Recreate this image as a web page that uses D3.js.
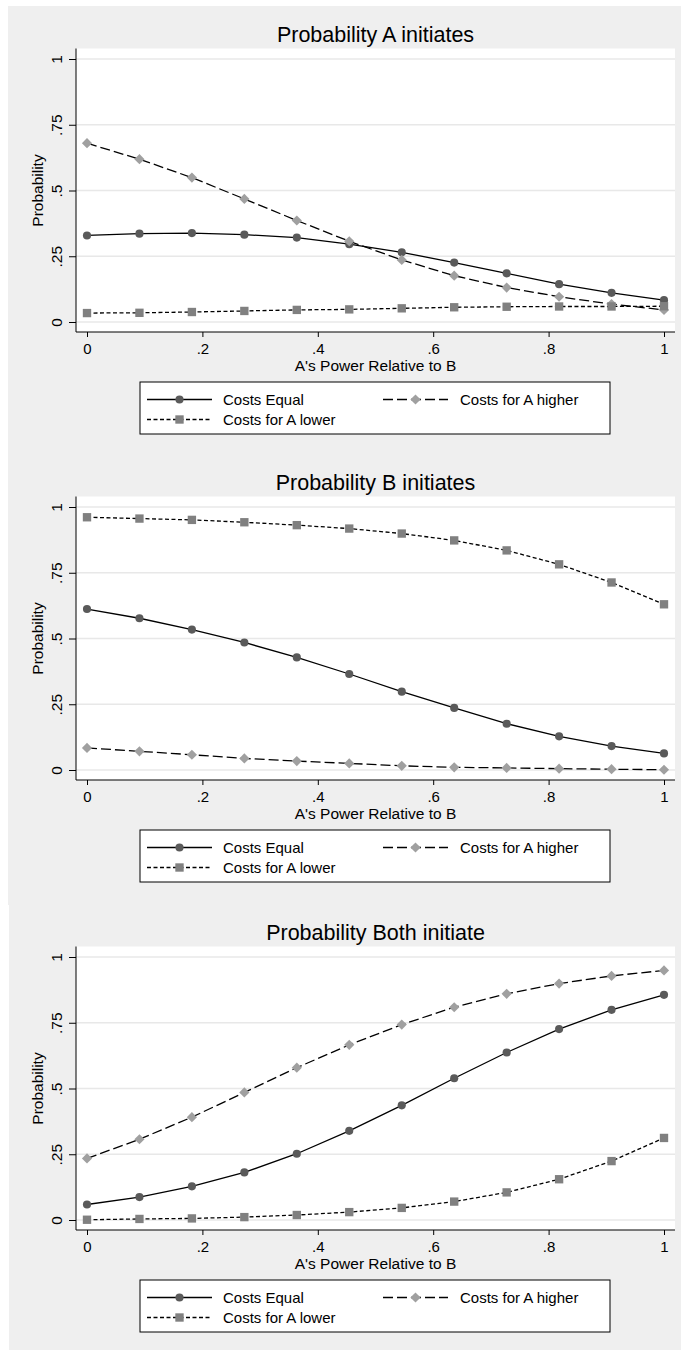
<!DOCTYPE html>
<html>
<head>
<meta charset="utf-8">
<script src="https://cdn.jsdelivr.net/npm/d3@7"></script>
<style>
  body { margin: 0; background: #fff; }
  svg { display: block; font-family: "Liberation Sans", Arial, sans-serif; }
</style>
</head>
<body>
<svg id="chart" width="681" height="1350"></svg>
<script>
// values
const xValues = [0, 0.0909, 0.1818, 0.2727, 0.3636, 0.4545, 0.5455, 0.6364, 0.7273, 0.8182, 0.9091, 1];

const panelTitles = ["Probability A initiates", "Probability B initiates", "Probability Both initiate"];
const seriesNames = ["Costs Equal", "Costs for A higher", "Costs for A lower"];

const aEqual  = [0.329, 0.336, 0.338, 0.332, 0.321, 0.296, 0.265, 0.226, 0.185, 0.144, 0.111, 0.083];
const aHigher = [0.680, 0.619, 0.549, 0.468, 0.386, 0.307, 0.236, 0.176, 0.131, 0.096, 0.068, 0.046];
const aLower  = [0.034, 0.035, 0.038, 0.042, 0.046, 0.048, 0.052, 0.056, 0.058, 0.059, 0.059, 0.060];

const bEqual  = [0.612, 0.577, 0.534, 0.485, 0.428, 0.365, 0.298, 0.236, 0.176, 0.128, 0.091, 0.063];
const bHigher = [0.084, 0.071, 0.058, 0.044, 0.034, 0.025, 0.016, 0.010, 0.008, 0.005, 0.003, 0.001];
const bLower  = [0.961, 0.956, 0.951, 0.942, 0.931, 0.918, 0.899, 0.873, 0.835, 0.782, 0.713, 0.630];

const bothEqual  = [0.059, 0.087, 0.128, 0.181, 0.252, 0.339, 0.436, 0.539, 0.637, 0.726, 0.799, 0.856];
const bothHigher = [0.234, 0.307, 0.391, 0.485, 0.579, 0.666, 0.743, 0.809, 0.860, 0.899, 0.928, 0.949];
const bothLower  = [0.001, 0.004, 0.006, 0.011, 0.019, 0.030, 0.046, 0.070, 0.105, 0.155, 0.224, 0.312];

const yTicks = [0, 0.25, 0.5, 0.75, 1];
const yTickLabels = ["0", ".25", ".5", ".75", "1"];
const xTicks = [0, 0.2, 0.4, 0.6, 0.8, 1];
const xTickLabels = ["0", ".2", ".4", ".6", ".8", "1"];

// layout of the three stacked graphs
const layout = [
  { bgX: 8, bgTop: 6,   bgBottom: 447,  y1: 59 },
  { bgX: 8, bgTop: 447, bgBottom: 905,  y1: 507 },
  { bgX: 9, bgTop: 905, bgBottom: 1350, y1: 957 }
];
const panelSeries = [[aEqual, aHigher, aLower], [bEqual, bHigher, bLower], [bothEqual, bothHigher, bothLower]];

const styles = [
  { dash: null,    symbol: d3.symbolCircle, size: 52, rotate: 0,  fill: "#5a5a5a" },
  { dash: "10,4",  symbol: d3.symbolSquare, size: 52, rotate: 45, fill: "#a0a0a0" },
  { dash: "4,2.5", symbol: d3.symbolSquare, size: 70, rotate: 0,  fill: "#808080" }
];

const svg = d3.select("#chart");
const plotLeft = 76, plotRight = 675;

layout.forEach((L, p) => {
  const y0 = L.y1 + 263;
  const g = svg.append("g");

  g.append("rect").attr("x", L.bgX).attr("y", L.bgTop)
    .attr("width", 681 - L.bgX).attr("height", L.bgBottom - L.bgTop).attr("fill", "#efefef");

  const plotTop = L.y1 - 10.5, axisY = y0 + 10;
  g.append("rect").attr("x", plotLeft).attr("y", plotTop)
    .attr("width", plotRight - plotLeft).attr("height", axisY - plotTop).attr("fill", "#fff");

  const x = d3.scaleLinear().domain([0, 1]).range([87, 664]);
  const y = d3.scaleLinear().domain([0, 1]).range([y0, L.y1]);

  // grid
  g.selectAll(".grid").data(yTicks).enter().append("line")
    .attr("x1", plotLeft).attr("x2", plotRight)
    .attr("y1", d => y(d)).attr("y2", d => y(d))
    .attr("stroke", "#e8e8e8").attr("stroke-width", 1.6);

  // title
  g.append("text").attr("x", 375.5).attr("y", L.y1 - 17).attr("text-anchor", "middle")
    .attr("font-size", "21.5px").attr("fill", "#000").text(panelTitles[p]);

  // y axis
  const ya = g.append("g").attr("transform", `translate(${plotLeft},0)`)
    .call(d3.axisLeft(y).tickValues(yTicks).tickFormat((d, i) => yTickLabels[i]).tickSize(7));
  ya.select(".domain").remove();
  ya.selectAll("line").attr("stroke", "#000");
  ya.selectAll("text").attr("transform", "rotate(-90)").attr("x", 0).attr("y", -14)
    .attr("dy", 0).attr("text-anchor", "middle").attr("font-size", "15.5px").attr("fill", "#000")
    .attr("font-family", null);
  g.append("line").attr("x1", plotLeft).attr("x2", plotLeft).attr("y1", plotTop).attr("y2", axisY)
    .attr("stroke", "#000").attr("stroke-width", 1);

  // x axis
  const xa = g.append("g").attr("transform", `translate(0,${axisY})`)
    .call(d3.axisBottom(x).tickValues(xTicks).tickFormat((d, i) => xTickLabels[i]).tickSize(5));
  xa.select(".domain").remove();
  xa.selectAll("line").attr("stroke", "#000");
  xa.selectAll("text").attr("y", 22).attr("dy", 0).attr("font-size", "15px").attr("fill", "#000")
    .attr("font-family", null);
  g.append("line").attr("x1", plotLeft).attr("x2", plotRight).attr("y1", axisY).attr("y2", axisY)
    .attr("stroke", "#000").attr("stroke-width", 1);

  // axis titles
  g.append("text").attr("x", 375.5).attr("y", y0 + 49).attr("text-anchor", "middle")
    .attr("font-size", "15.5px").text("A's Power Relative to B");
  g.append("text").attr("transform", `translate(43,${(y0 + L.y1) / 2}) rotate(-90)`)
    .attr("text-anchor", "middle").attr("font-size", "15.5px").text("Probability");

  // series
  const line = d3.line().x((d, i) => x(xValues[i])).y(d => y(d));
  panelSeries[p].forEach((vals, s) => {
    const st = styles[s];
    g.append("path").datum(vals).attr("d", line).attr("fill", "none")
      .attr("stroke", "#000").attr("stroke-width", 1.3)
      .attr("stroke-dasharray", st.dash);
    g.selectAll(null).data(vals).enter().append("path")
      .attr("d", d3.symbol().type(st.symbol).size(st.size))
      .attr("transform", (d, i) => `translate(${x(xValues[i])},${y(d)}) rotate(${st.rotate})`)
      .attr("fill", st.fill);
  });

  // legend
  const lgTop = y0 + 60;
  g.append("rect").attr("x", 140).attr("y", lgTop).attr("width", 470).attr("height", 52)
    .attr("fill", "#fff").attr("stroke", "#000").attr("stroke-width", 1);
  const keyX = [147, 383], textX = [223, 460], rowY = [y0 + 77.5, y0 + 97.5];
  const slots = [[0, 0], [1, 0], [0, 1]];
  seriesNames.forEach((name, s) => {
    const [c, r] = slots[s], st = styles[s];
    g.append("line").attr("x1", keyX[c]).attr("x2", keyX[c] + 65)
      .attr("y1", rowY[r]).attr("y2", rowY[r])
      .attr("stroke", "#000").attr("stroke-width", 1.3).attr("stroke-dasharray", st.dash);
    g.append("path").attr("d", d3.symbol().type(st.symbol).size(st.size))
      .attr("transform", `translate(${keyX[c] + 32.5},${rowY[r]}) rotate(${st.rotate})`)
      .attr("fill", st.fill);
    g.append("text").attr("x", textX[c]).attr("y", rowY[r] + 5.5)
      .attr("font-size", "15px").text(name);
  });
});
</script>
</body>
</html>
